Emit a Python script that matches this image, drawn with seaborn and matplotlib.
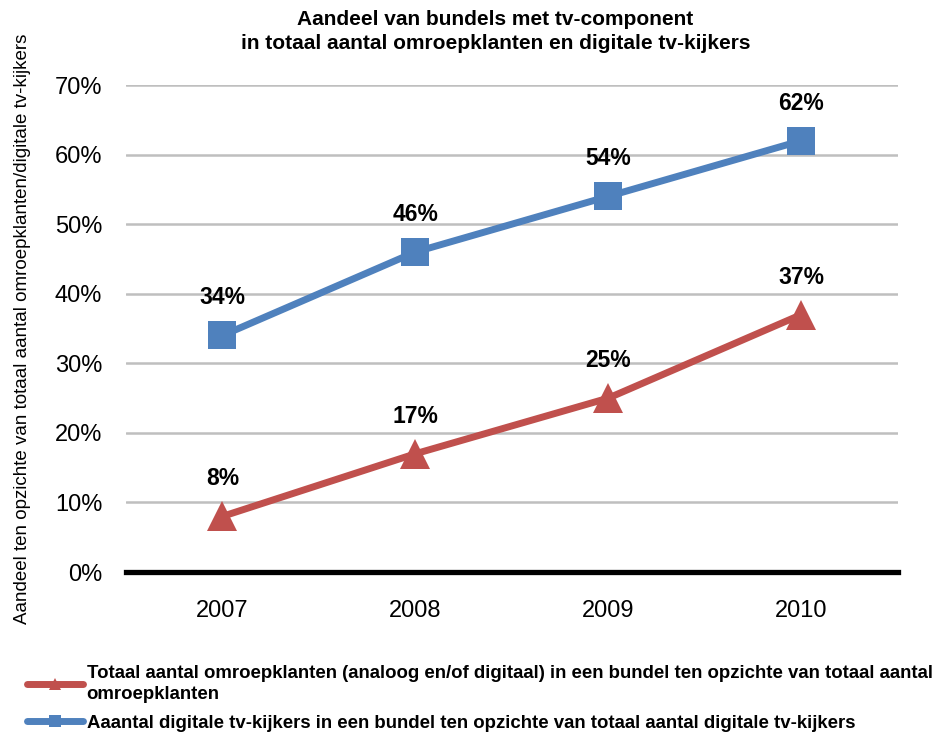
import matplotlib
matplotlib.use("Agg")
import matplotlib.pyplot as plt
import seaborn as sns
import pandas as pd
from matplotlib.lines import Line2D

years = ["2007", "2008", "2009", "2010"]
totaal_omroep = [8, 17, 25, 37]
digitale_kijkers = [34, 46, 54, 62]

label_totaal = ("Totaal aantal omroepklanten (analoog en/of digitaal) in een bundel ten opzichte van totaal aantal\n"
                "omroepklanten")
label_digitaal = "Aaantal digitale tv-kijkers in een bundel ten opzichte van totaal aantal digitale tv-kijkers"
title = "Aandeel van bundels met tv-component\nin totaal aantal omroepklanten en digitale tv-kijkers"
ylabel = "Aandeel ten opzichte van totaal aantal omroepklanten/digitale tv-kijkers"

sns.set_theme(style="white")
plt.rcParams["font.family"] = ["Liberation Sans", "DejaVu Sans"]
plt.rcParams["text.color"] = "black"

red = "#C0504D"
blue = "#4F81BD"

df = pd.DataFrame({
    "jaar": years * 2,
    "waarde": totaal_omroep + digitale_kijkers,
    "reeks": ["totaal"] * 4 + ["digitaal"] * 4,
})
df["x"] = df["jaar"].map({y: i for i, y in enumerate(years)})

fig = plt.figure(figsize=(9.4, 7.33), dpi=100)
ax = fig.add_axes([0.134, 0.2196, 0.821, 0.6644])

sns.lineplot(data=df[df.reeks == "totaal"], x="x", y="waarde", ax=ax,
             color=red, linewidth=5, marker="^", markersize=21,
             markeredgewidth=0, legend=False)
sns.lineplot(data=df[df.reeks == "digitaal"], x="x", y="waarde", ax=ax,
             color=blue, linewidth=5, marker="s", markersize=19.5,
             markeredgewidth=0, legend=False)

# data labels above each point
for vals in (totaal_omroep, digitale_kijkers):
    for i, v in enumerate(vals):
        ax.annotate(f"{v}%", (i, v), xytext=(0, 27), textcoords="offset points",
                    ha="center", va="center", fontsize=16.5, fontweight="bold",
                    color="black")

ax.set_xlim(-0.5, 3.5)
ax.set_ylim(0, 70)
ax.set_xticks(range(len(years)))
ax.set_xticklabels(years, fontsize=17)
ax.set_yticks(range(0, 71, 10))
ax.set_yticklabels([f"{t}%" for t in range(0, 71, 10)], fontsize=17)
ax.tick_params(axis="x", length=0, pad=20, colors="black")
ax.tick_params(axis="y", length=0, pad=17, colors="black")
ax.set_xlabel("")
ax.set_ylabel(ylabel, fontsize=13.5, color="black")
ax.yaxis.set_label_coords(-0.123, 0.5)

ax.grid(axis="y", color="#BFBFBF", linewidth=1.8)
ax.grid(axis="x", visible=False)
ax.set_axisbelow(True)
for s in ("top", "right", "left"):
    ax.spines[s].set_visible(False)
ax.spines["bottom"].set_color("black")
ax.spines["bottom"].set_linewidth(3.8)
ax.spines["bottom"].set_zorder(1.5)

fig.text(0.527, 0.986, title, ha="center", va="top", fontsize=15,
         fontweight="bold", linespacing=1.3, color="black")

handles = [
    Line2D([], [], color=red, linewidth=5, marker="^", markersize=9, markeredgewidth=0),
    Line2D([], [], color=blue, linewidth=5, marker="s", markersize=8, markeredgewidth=0),
]
leg = fig.legend(handles, [label_totaal, label_digitaal], loc="upper left",
                 bbox_to_anchor=(0.0287, 0.093), frameon=False, borderpad=0,
                 borderaxespad=0, handlelength=3.0, handletextpad=0.2,
                 labelspacing=0.6,
                 prop={"weight": "bold", "size": 13.4})
for t in leg.get_texts():
    t.set_color("black")
    t.set_linespacing(1.35)

fig.savefig("out.png", dpi=100)
